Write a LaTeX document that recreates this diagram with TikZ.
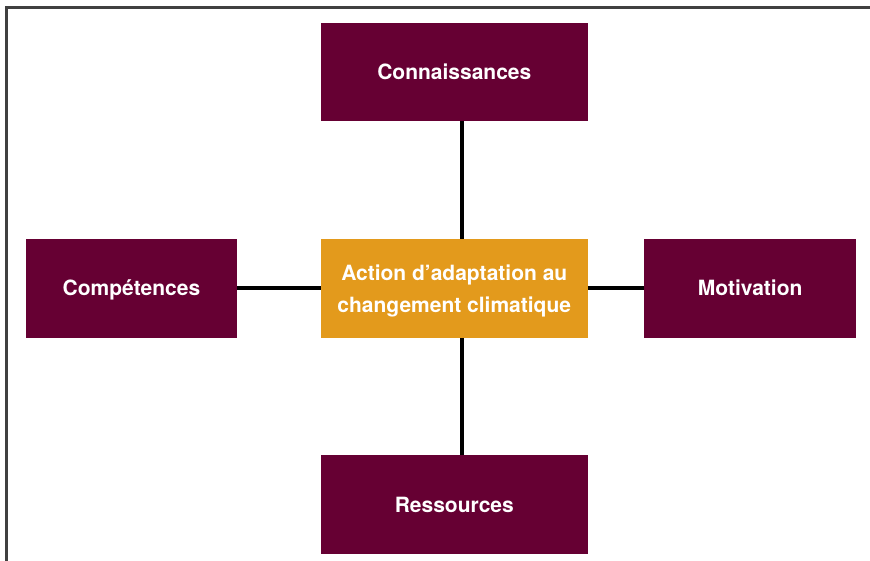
\documentclass[tikz,border=0pt]{standalone}
\usepackage{fontspec}
\setmainfont{TeX Gyre Heros}
\usepackage{tikz}
\usetikzlibrary{positioning}
\usepackage{xcolor}
\definecolor{maroon}{RGB}{102,0,51}
\definecolor{amber}{RGB}{227,154,28}
\definecolor{frame}{RGB}{64,64,64}

\begin{document}
\begin{tikzpicture}[x=1pt, y=-1pt]
    \tikzstyle{factor} = [fill=maroon, text=white, inner sep=0pt, minimum width=211.7pt, minimum height=98.7pt, align=center, text height=15.2pt, text depth=0pt, font=\fontsize{21}{32}\selectfont\bfseries]
    \tikzstyle{link} = [line width=4pt, black]
    \useasboundingbox (0,0) rectangle (870,560);
    \draw[frame, line width=3pt] (6.5,7.2) rectangle (900,600);
    \node [factor, fill=amber, minimum width=266.7pt, text height=47.6pt] at (454.3,288.3) (action) {Action d’adaptation au\\changement climatique};
    \node [factor, minimum width=266.7pt, above=117.3pt of action] (connaissances) {Connaissances};
    \node [factor, minimum width=266.7pt, below=117.3pt of action] (ressources) {Ressources};
    \node [factor, left=83.3pt of action] (competences) {Compétences};
    \node [factor, right=56.3pt of action] (motivation) {Motivation};
    \draw[link] ([xshift=7.5pt]connaissances.south) -- ([xshift=7.5pt]action.north);
    \draw[link] ([xshift=7.5pt]action.south) -- ([xshift=7.5pt]ressources.north);
    \draw[link] (competences.east) -- (action.west);
    \draw[link] (action.east) -- (motivation.west);
\end{tikzpicture}
\end{document}
